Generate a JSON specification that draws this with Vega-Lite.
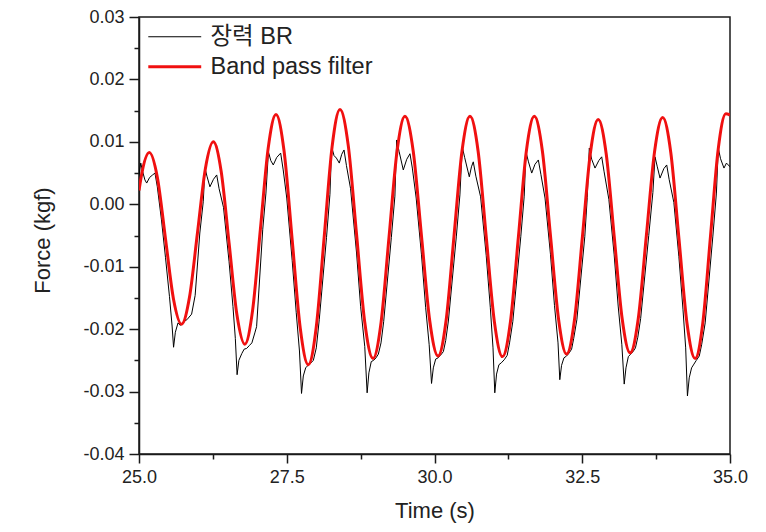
{
  "$schema": "https://vega.github.io/schema/vega-lite/v6.json",
  "width": 591,
  "height": 437,
  "autosize": {"type": "none"},
  "padding": {"left": 139, "top": 17, "right": 36, "bottom": 78},
  "background": "white",
  "config": {
    "view": {"stroke": "#1a1a1a", "strokeWidth": 1.5},
    "font": "Liberation Sans",
    "axis": {
      "domainColor": "#1a1a1a", "domainWidth": 1.5,
      "tickColor": "#1a1a1a", "tickWidth": 1.5,
      "grid": false,
      "labelColor": "#222222", "titleColor": "#222222",
      "labelFont": "Liberation Sans", "titleFont": "Liberation Sans",
      "labelFontSize": 18, "titleFontSize": 22, "titleFontWeight": "normal"
    }
  },
  "datasets": {
    "raw": [
      {"t":25.000,"v":0.0048},{"t":25.030,"v":0.0066},{"t":25.060,"v":0.0053},{"t":25.100,"v":0.0039},{"t":25.130,"v":0.0034},{"t":25.180,"v":0.0043},{"t":25.230,"v":0.0047},{"t":25.270,"v":0.0050},{"t":25.310,"v":0.0028},{"t":25.380,"v":-0.0025},{"t":25.448,"v":-0.0085},{"t":25.516,"v":-0.0148},{"t":25.560,"v":-0.0195},{"t":25.585,"v":-0.0229},{"t":25.615,"v":-0.0205},{"t":25.660,"v":-0.0190},{"t":25.700,"v":-0.0194},{"t":25.750,"v":-0.0188},{"t":25.810,"v":-0.0185},{"t":25.890,"v":-0.0176},{"t":25.950,"v":-0.0146},{"t":26.029,"v":-0.0046},{"t":26.087,"v":0.0004},{"t":26.117,"v":0.0058},{"t":26.150,"v":0.0045},{"t":26.200,"v":0.0028},{"t":26.260,"v":0.0040},{"t":26.315,"v":0.0047},{"t":26.355,"v":0.0025},{"t":26.430,"v":-0.0005},{"t":26.524,"v":-0.0092},{"t":26.590,"v":-0.0164},{"t":26.630,"v":-0.0215},{"t":26.660,"v":-0.0273},{"t":26.690,"v":-0.0250},{"t":26.740,"v":-0.0239},{"t":26.780,"v":-0.0232},{"t":26.820,"v":-0.0231},{"t":26.870,"v":-0.0226},{"t":26.910,"v":-0.0222},{"t":26.960,"v":-0.0206},{"t":26.990,"v":-0.0196},{"t":27.094,"v":-0.0040},{"t":27.148,"v":0.0018},{"t":27.190,"v":0.0084},{"t":27.230,"v":0.0070},{"t":27.272,"v":0.0063},{"t":27.330,"v":0.0075},{"t":27.397,"v":0.0082},{"t":27.440,"v":0.0055},{"t":27.500,"v":0.0010},{"t":27.592,"v":-0.0090},{"t":27.660,"v":-0.0173},{"t":27.715,"v":-0.0235},{"t":27.750,"v":-0.0303},{"t":27.780,"v":-0.0275},{"t":27.820,"v":-0.0262},{"t":27.860,"v":-0.0258},{"t":27.900,"v":-0.0255},{"t":27.950,"v":-0.0250},{"t":28.000,"v":-0.0230},{"t":28.050,"v":-0.0185},{"t":28.173,"v":-0.0053},{"t":28.231,"v":0.0016},{"t":28.260,"v":0.0092},{"t":28.300,"v":0.0078},{"t":28.340,"v":0.0074},{"t":28.389,"v":0.0066},{"t":28.430,"v":0.0080},{"t":28.469,"v":0.0087},{"t":28.510,"v":0.0062},{"t":28.580,"v":0.0025},{"t":28.681,"v":-0.0078},{"t":28.750,"v":-0.0164},{"t":28.820,"v":-0.0228},{"t":28.860,"v":-0.0302},{"t":28.890,"v":-0.0270},{"t":28.930,"v":-0.0252},{"t":28.970,"v":-0.0250},{"t":29.010,"v":-0.0246},{"t":29.050,"v":-0.0240},{"t":29.095,"v":-0.0222},{"t":29.140,"v":-0.0188},{"t":29.270,"v":-0.0053},{"t":29.330,"v":0.0013},{"t":29.360,"v":0.0103},{"t":29.400,"v":0.0085},{"t":29.472,"v":0.0055},{"t":29.530,"v":0.0072},{"t":29.585,"v":0.0081},{"t":29.625,"v":0.0058},{"t":29.690,"v":0.0010},{"t":29.780,"v":-0.0081},{"t":29.850,"v":-0.0165},{"t":29.910,"v":-0.0225},{"t":29.950,"v":-0.0287},{"t":29.980,"v":-0.0262},{"t":30.020,"v":-0.0248},{"t":30.060,"v":-0.0246},{"t":30.100,"v":-0.0242},{"t":30.150,"v":-0.0236},{"t":30.190,"v":-0.0218},{"t":30.235,"v":-0.0187},{"t":30.370,"v":-0.0051},{"t":30.430,"v":0.0015},{"t":30.470,"v":0.0092},{"t":30.510,"v":0.0075},{"t":30.589,"v":0.0044},{"t":30.625,"v":0.0060},{"t":30.656,"v":0.0068},{"t":30.700,"v":0.0045},{"t":30.780,"v":0.0012},{"t":30.875,"v":-0.0082},{"t":30.944,"v":-0.0165},{"t":30.990,"v":-0.0230},{"t":31.020,"v":-0.0302},{"t":31.050,"v":-0.0272},{"t":31.090,"v":-0.0257},{"t":31.130,"v":-0.0254},{"t":31.180,"v":-0.0249},{"t":31.230,"v":-0.0242},{"t":31.270,"v":-0.0222},{"t":31.325,"v":-0.0188},{"t":31.460,"v":-0.0052},{"t":31.518,"v":0.0013},{"t":31.548,"v":0.0084},{"t":31.590,"v":0.0068},{"t":31.645,"v":0.0050},{"t":31.700,"v":0.0064},{"t":31.757,"v":0.0071},{"t":31.800,"v":0.0048},{"t":31.870,"v":0.0010},{"t":31.962,"v":-0.0080},{"t":32.030,"v":-0.0162},{"t":32.090,"v":-0.0222},{"t":32.120,"v":-0.0281},{"t":32.150,"v":-0.0258},{"t":32.190,"v":-0.0246},{"t":32.235,"v":-0.0243},{"t":32.280,"v":-0.0238},{"t":32.320,"v":-0.0232},{"t":32.355,"v":-0.0215},{"t":32.409,"v":-0.0185},{"t":32.543,"v":-0.0052},{"t":32.585,"v":0.0011},{"t":32.619,"v":0.0090},{"t":32.660,"v":0.0072},{"t":32.716,"v":0.0058},{"t":32.780,"v":0.0070},{"t":32.829,"v":0.0076},{"t":32.870,"v":0.0052},{"t":32.950,"v":0.0008},{"t":33.040,"v":-0.0081},{"t":33.108,"v":-0.0163},{"t":33.170,"v":-0.0225},{"t":33.210,"v":-0.0288},{"t":33.240,"v":-0.0262},{"t":33.280,"v":-0.0244},{"t":33.320,"v":-0.0240},{"t":33.360,"v":-0.0236},{"t":33.400,"v":-0.0230},{"t":33.440,"v":-0.0213},{"t":33.488,"v":-0.0183},{"t":33.625,"v":-0.0050},{"t":33.695,"v":0.0019},{"t":33.731,"v":0.0076},{"t":33.770,"v":0.0060},{"t":33.816,"v":0.0042},{"t":33.880,"v":0.0057},{"t":33.929,"v":0.0063},{"t":33.970,"v":0.0040},{"t":34.050,"v":0.0003},{"t":34.135,"v":-0.0084},{"t":34.204,"v":-0.0168},{"t":34.250,"v":-0.0230},{"t":34.280,"v":-0.0307},{"t":34.310,"v":-0.0278},{"t":34.350,"v":-0.0262},{"t":34.390,"v":-0.0256},{"t":34.430,"v":-0.0250},{"t":34.480,"v":-0.0243},{"t":34.520,"v":-0.0225},{"t":34.580,"v":-0.0190},{"t":34.710,"v":-0.0051},{"t":34.770,"v":0.0018},{"t":34.802,"v":0.0090},{"t":34.840,"v":0.0073},{"t":34.898,"v":0.0058},{"t":34.940,"v":0.0066},{"t":34.971,"v":0.0063},{"t":35.000,"v":0.0060}
    ],
    "bpf": [
      {"t":25.000,"v":0.0022},{"t":25.039,"v":0.0045},{"t":25.175,"v":0.0083},{"t":25.311,"v":0.0043},{"t":25.448,"v":-0.0055},{"t":25.584,"v":-0.0152},{"t":25.720,"v":-0.0192},{"t":25.854,"v":-0.0149},{"t":25.989,"v":-0.0046},{"t":26.123,"v":0.0057},{"t":26.257,"v":0.0100},{"t":26.390,"v":0.0053},{"t":26.524,"v":-0.0062},{"t":26.657,"v":-0.0177},{"t":26.790,"v":-0.0224},{"t":26.922,"v":-0.0170},{"t":27.054,"v":-0.0040},{"t":27.186,"v":0.0090},{"t":27.318,"v":0.0144},{"t":27.455,"v":0.0085},{"t":27.592,"v":-0.0057},{"t":27.728,"v":-0.0198},{"t":27.865,"v":-0.0257},{"t":27.999,"v":-0.0197},{"t":28.133,"v":-0.0053},{"t":28.267,"v":0.0092},{"t":28.401,"v":0.0152},{"t":28.541,"v":0.0094},{"t":28.681,"v":-0.0048},{"t":28.820,"v":-0.0189},{"t":28.960,"v":-0.0247},{"t":29.095,"v":-0.0190},{"t":29.230,"v":-0.0053},{"t":29.365,"v":0.0084},{"t":29.500,"v":0.0141},{"t":29.640,"v":0.0085},{"t":29.780,"v":-0.0051},{"t":29.920,"v":-0.0187},{"t":30.060,"v":-0.0243},{"t":30.195,"v":-0.0187},{"t":30.330,"v":-0.0051},{"t":30.465,"v":0.0085},{"t":30.600,"v":0.0141},{"t":30.738,"v":0.0085},{"t":30.875,"v":-0.0052},{"t":31.013,"v":-0.0188},{"t":31.150,"v":-0.0244},{"t":31.285,"v":-0.0188},{"t":31.420,"v":-0.0052},{"t":31.554,"v":0.0085},{"t":31.689,"v":0.0141},{"t":31.826,"v":0.0085},{"t":31.962,"v":-0.0050},{"t":32.099,"v":-0.0184},{"t":32.235,"v":-0.0240},{"t":32.369,"v":-0.0185},{"t":32.503,"v":-0.0052},{"t":32.636,"v":0.0081},{"t":32.770,"v":0.0136},{"t":32.905,"v":0.0081},{"t":33.040,"v":-0.0051},{"t":33.175,"v":-0.0183},{"t":33.310,"v":-0.0238},{"t":33.448,"v":-0.0183},{"t":33.585,"v":-0.0050},{"t":33.723,"v":0.0084},{"t":33.860,"v":0.0139},{"t":33.998,"v":0.0083},{"t":34.135,"v":-0.0054},{"t":34.273,"v":-0.0191},{"t":34.410,"v":-0.0247},{"t":34.540,"v":-0.0190},{"t":34.670,"v":-0.0051},{"t":34.800,"v":0.0088},{"t":34.930,"v":0.0145},{"t":35.000,"v":0.0143}
    ]
  },
  "encoding": {
    "x": {
      "field": "t", "type": "quantitative", "title": "Time (s)",
      "scale": {"domain": [25, 35], "nice": false, "zero": false},
      "axis": {
        "values": [25, 26.25, 27.5, 28.75, 30, 31.25, 32.5, 33.75, 35],
        "labelExpr": "datum.value % 2.5 === 0 ? format(datum.value, '.1f') : ''",
        "tickSize": {"condition": {"test": "datum.value % 2.5 === 0", "value": 9}, "value": 5},
        "labelFlush": false, "labelOverlap": false, "labelPadding": 5,
        "titleY": 63, "titleBaseline": "alphabetic"
      }
    },
    "y": {
      "field": "v", "type": "quantitative", "title": "Force (kgf)",
      "scale": {"domain": [-0.04, 0.03], "nice": false, "zero": false},
      "axis": {
        "values": [-0.04, -0.035, -0.03, -0.025, -0.02, -0.015, -0.01, -0.005, 0, 0.005, 0.01, 0.015, 0.02, 0.025, 0.03],
        "labelExpr": "abs(round(datum.value * 1000)) % 10 === 0 ? replace(format(datum.value, '.2f'), '\u2212', '-') : ''",
        "tickSize": {"condition": {"test": "abs(round(datum.value * 1000)) % 10 === 0", "value": 10}, "value": 5},
        "labelFlush": false, "labelOverlap": false, "labelPadding": 5,
        "titleX": -97, "titleY": 223, "titleAngle": -90, "titleAlign": "center", "titleBaseline": "middle"
      }
    }
  },
  "layer": [
    {
      "data": {"name": "raw"},
      "mark": {"type": "line", "strokeWidth": 1, "clip": true},
      "encoding": {
        "color": {
          "datum": "장력 BR", "type": "nominal",
          "scale": {"domain": ["장력 BR", "Band pass filter"], "range": ["#000000", "#f01010"]},
          "legend": {
            "orient": "none", "legendX": 24, "legendY": 8, "title": null,
            "symbolType": "stroke", "symbolSize": 2800, "symbolStrokeWidth": 1.5,
            "labelFontSize": 23.5, "labelFont": "Liberation Sans, Noto Sans CJK KR, sans-serif",
            "labelColor": "#222222", "labelOffset": 24, "rowPadding": 5, "padding": 0, "labelLimit": 400,
            "encode": {"symbols": {"update": {"strokeWidth": {"signal": "datum.value === 'Band pass filter' ? 3 : 1"}}}}
          }
        }
      }
    },
    {
      "data": {"name": "bpf"},
      "mark": {"type": "line", "strokeWidth": 3, "interpolate": "monotone", "clip": true},
      "encoding": {
        "color": {"datum": "Band pass filter", "type": "nominal"}
      }
    }
  ]
}
